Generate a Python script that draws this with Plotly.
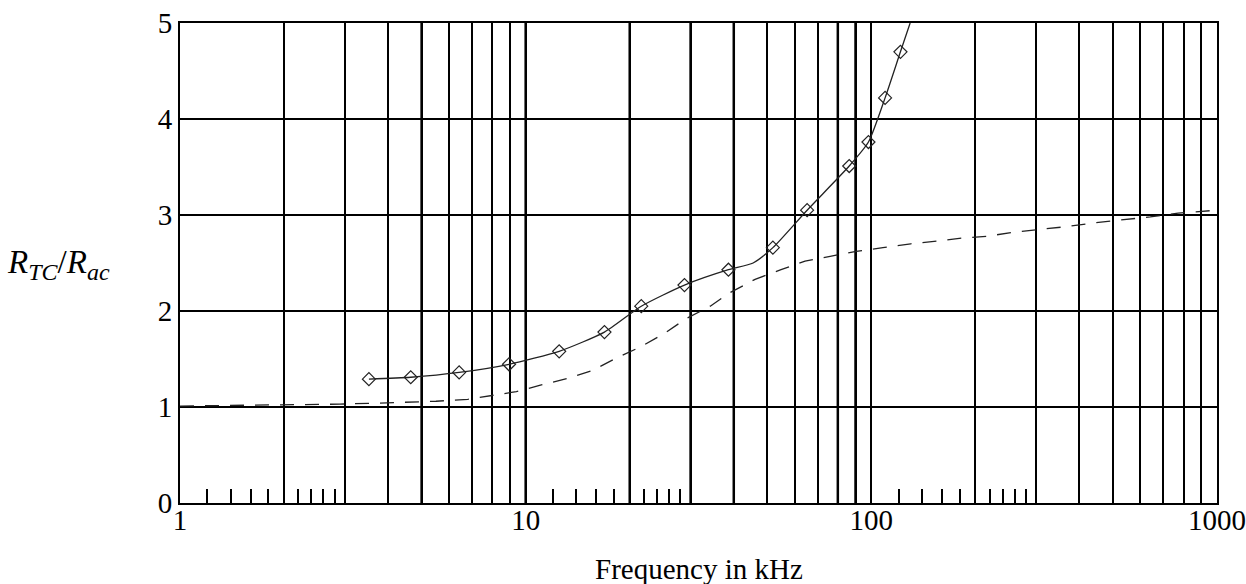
import plotly.graph_objects as go

# ---- data ----
# measured points (diamonds) on the solid curve
meas_f = [3.52, 4.65, 6.42, 8.95, 12.5, 16.9, 21.6, 28.8, 38.6, 51.9, 65.2, 86.3, 98.1, 109.6, 121.4]
meas_v = [1.29, 1.31, 1.36, 1.445, 1.58, 1.78, 2.05, 2.27, 2.43, 2.66, 3.05, 3.51, 3.76, 4.22, 4.70]

# solid curve through the measured points
solid_f = [3.52, 4.65, 6.42, 8.95, 12.5, 16.9, 21.6, 28.8, 38.6, 45.5, 51.9, 65.2, 86.3, 98.1, 109.6, 121.4, 129.5]
solid_v = [1.29, 1.31, 1.36, 1.445, 1.58, 1.78, 2.05, 2.27, 2.43, 2.50, 2.66, 3.05, 3.51, 3.76, 4.22, 4.70, 5.0]

# dashed (theoretical) curve
dash_f = [1.0, 2.0, 2.9, 3.7, 4.5, 5.5, 6.8, 8.0, 9.4, 11.1, 13.3, 15.6, 18.3, 21.6, 25.3, 29.1, 34.2,
          38.5, 46.1, 54.8, 64.3, 76.0, 90.4, 108, 130, 156, 184, 218, 257, 308, 369, 444, 532,
          641, 772, 900, 1000]
dash_v = [1.01, 1.02, 1.03, 1.04, 1.05, 1.06, 1.08, 1.12, 1.16, 1.23, 1.30, 1.38, 1.51, 1.63, 1.77, 1.92, 2.05,
          2.18, 2.33, 2.43, 2.52, 2.57, 2.62, 2.66, 2.70, 2.73, 2.76, 2.78, 2.82, 2.85, 2.88, 2.92, 2.95,
          2.98, 3.02, 3.04, 3.05]

# axis ticks / grid
decade_x = [1, 10, 100, 1000]
decade_labels = ["1", "10", "100", "1000"]
grid_x = [2, 3, 4, 5, 6, 7, 8, 9,
          20, 30, 40, 50, 60, 70, 80, 90,
          200, 300, 400, 500, 600, 700, 800, 900]
thick_grid_x = [5, 10, 20, 30, 40, 80, 90]
minor_x = [1.2, 1.4, 1.6, 1.8, 2.2, 2.4, 2.6, 2.8,
           12, 14, 16, 18, 22, 24, 26, 28,
           120, 140, 160, 180, 220, 240, 260, 280]
y_ticks = [0, 1, 2, 3, 4, 5]

FONT = "Liberation Serif"

fig = go.Figure()

fig.add_trace(go.Scatter(
    x=dash_f, y=dash_v, mode="lines",
    line=dict(color="#222222", width=1.3, dash="14px,11px"),
    showlegend=False, hoverinfo="skip"))

fig.add_trace(go.Scatter(
    x=solid_f, y=solid_v, mode="lines",
    line=dict(color="#222222", width=1.3, shape="spline", smoothing=0.6),
    showlegend=False, hoverinfo="skip"))

fig.add_trace(go.Scatter(
    x=meas_f, y=meas_v, mode="markers",
    marker=dict(symbol="diamond-open", size=10, color="#222222", line=dict(width=1.2, color="#222222")),
    showlegend=False))

# invisible trace on the overlay axis carrying the small inside ticks
fig.add_trace(go.Scatter(x=[1, 1000], y=[0, 0], xaxis="x2", mode="lines",
                         line=dict(width=0), showlegend=False, hoverinfo="skip"))

for gx in thick_grid_x:
    fig.add_shape(type="line", xref="x", yref="paper", x0=gx, x1=gx, y0=0, y1=1,
                  line=dict(color="black", width=2.5), layer="below")

fig.add_annotation(
    text=("<i>R</i><sub><span style='font-size:24px'><i>TC</i></span></sub>"
          "/<i>R</i><sub><span style='font-size:24px'><i>ac</i></span></sub>"),
    xref="paper", yref="y", x=-0.169, y=2.48, xanchor="left", yanchor="middle",
    showarrow=False, font=dict(family=FONT, size=33, color="black"))

fig.add_annotation(
    text="Frequency in kHz", xref="paper", yref="paper", x=0.5, y=0,
    xanchor="center", yanchor="middle", yshift=-66,
    showarrow=False, font=dict(family=FONT, size=29, color="black"))

fig.update_layout(
    width=1246, height=584,
    margin=dict(l=180, r=29, t=23, b=81),
    paper_bgcolor="white", plot_bgcolor="white",
    font=dict(family=FONT, size=29, color="black"),
    xaxis=dict(
        type="log", range=[0, 3], automargin=False,
        tickmode="array", tickvals=decade_x, ticktext=decade_labels,
        ticks="", showgrid=True, gridcolor="black", gridwidth=1.7,
        showline=True, linecolor="black", linewidth=1.8, mirror=True,
        zeroline=False, ticklabelstandoff=-10,
        minor=dict(tickmode="array", tickvals=grid_x, ticks="",
                   showgrid=True, gridcolor="black", gridwidth=1.7),
        tickfont=dict(family=FONT, size=29),
    ),
    xaxis2=dict(
        type="log", range=[0, 3], overlaying="x", anchor="y", side="bottom",
        automargin=False, tickmode="array", tickvals=minor_x, ticks="inside",
        ticklen=14, tickwidth=1.6, tickcolor="black", showticklabels=False,
        showgrid=False, zeroline=False, showline=False,
    ),
    yaxis=dict(
        range=[0, 5], tickmode="array", tickvals=y_ticks, automargin=False,
        ticks="", showgrid=True, gridcolor="black", gridwidth=1.7,
        showline=True, linecolor="black", linewidth=1.8, mirror=True,
        zeroline=False, tickfont=dict(family=FONT, size=29),
    ),
)

fig.write_html("out.html", config={"displayModeBar": False},
               post_script="document.body.style.margin='0';")
